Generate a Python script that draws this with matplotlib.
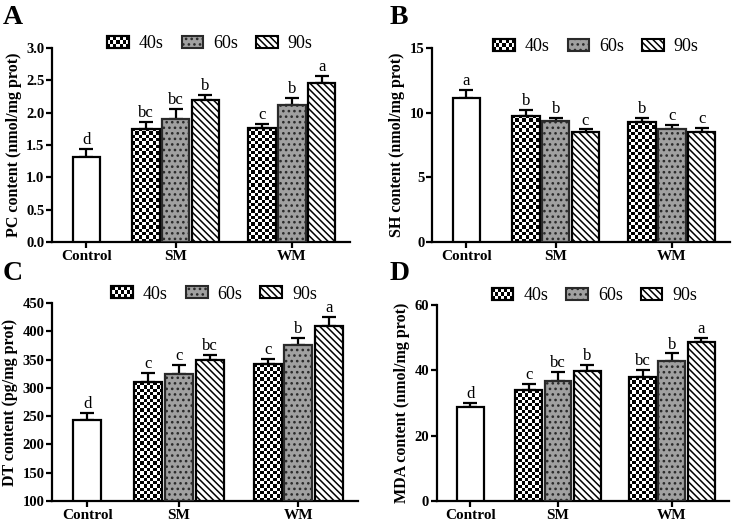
import numpy as np
import matplotlib.pyplot as plt
from matplotlib.patches import Rectangle, Patch
from matplotlib.legend_handler import HandlerBase

plt.rcParams['font.family'] = 'Liberation Serif'
plt.rcParams['hatch.linewidth'] = 1.1

#%% data
groups = ["Control", "SM", "WM"]
times = ["40s", "60s", "90s"]

# PC content
pc_ctrl, pc_ctrl_err = 1.32, 0.11
pc_sm = [1.75, 1.90, 2.20]
pc_sm_err = [0.11, 0.15, 0.07]
pc_wm = [1.76, 2.12, 2.45]
pc_wm_err = [0.06, 0.11, 0.11]
pc_letters = ["d", "bc", "bc", "b", "c", "b", "a"]

# SH content
sh_ctrl, sh_ctrl_err = 11.13, 0.6
sh_sm = [9.77, 9.33, 8.48]
sh_sm_err = [0.41, 0.23, 0.21]
sh_wm = [9.25, 8.76, 8.48]
sh_wm_err = [0.31, 0.26, 0.36]
sh_letters = ["a", "b", "b", "c", "b", "c", "c"]

# DT content
dt_ctrl, dt_ctrl_err = 244, 12
dt_sm = [310, 324, 350]
dt_sm_err = [16, 17, 9]
dt_wm = [342, 375, 410]
dt_wm_err = [9, 13, 16]
dt_letters = ["d", "c", "c", "bc", "c", "b", "a"]

# MDA content
mda_ctrl, mda_ctrl_err = 28.9, 1.2
mda_sm = [34.0, 36.8, 39.9]
mda_sm_err = [2.0, 2.8, 1.7]
mda_wm = [37.9, 42.9, 48.8]
mda_wm_err = [2.2, 2.3, 1.2]
mda_letters = ["d", "c", "bc", "b", "bc", "b", "a"]


#%% helpers
class CheckerHandler(HandlerBase):
    def create_artists(self, legend, orig_handle, xdescent, ydescent,
                       width, height, fontsize, trans):
        arts = [Rectangle((-xdescent, -ydescent), width, height, fc="white",
                          ec="black", lw=1.5, transform=trans)]
        nx, ny = 7, 3
        cw, ch = width / nx, height / ny
        for i in range(nx):
            for j in range(ny):
                if (i + j) % 2 == 0:
                    arts.append(Rectangle((-xdescent + i * cw, -ydescent + j * ch),
                                          cw, ch, fc="black", lw=0, transform=trans))
        arts.append(Rectangle((-xdescent, -ydescent), width, height, fc="none",
                              ec="black", lw=1.5, transform=trans))
        return arts


def checker_fill(ax, bar, cell=3.3):
    # checkerboard pattern clipped to bar
    x0, y0 = bar.get_x(), bar.get_y()
    x1, y1 = x0 + bar.get_width(), y0 + bar.get_height()
    p0 = ax.transData.transform((x0, y0))
    p1 = ax.transData.transform((x1, y1))
    nx = max(int(round((p1[0] - p0[0]) / cell)), 1)
    ny = max(int(round((p1[1] - p0[1]) / cell)), 1)
    board = (np.add.outer(np.arange(ny), np.arange(nx)) % 2).astype(float)
    im = ax.imshow(board, cmap="gray", extent=(x0, x1, y0, y1), aspect="auto",
                   interpolation="nearest", zorder=2)
    im.set_clip_path(bar)


def yticks_fmt(yticks):
    if any(abs(t - round(t)) > 1e-9 for t in yticks):
        return "%.1f"
    return "%d"


def panel(ax, ctrl, ctrl_err, sm, sm_err, wm, wm_err, letters, ylim, yticks,
          ylabel, leg_xy):
    xlim = (-1.15, 8.85)
    ax.set_xlim(xlim)
    ax.set_ylim(ylim)
    base = ylim[0]
    w = 0.92
    pos = [0, 2, 3, 4, 5.9, 6.9, 7.9]
    vals = [ctrl] + sm + wm
    errs = [ctrl_err] + sm_err + wm_err

    ax.bar(pos[0], ctrl - base, w, bottom=base, color="white",
           edgecolor="black", lw=1.6, zorder=3)
    for k in range(3):
        xs = [pos[1 + k], pos[4 + k]]
        hs = [sm[k] - base, wm[k] - base]
        if k == 0:
            bars = ax.bar(xs, hs, w, bottom=base, color="white",
                          edgecolor="black", lw=0, zorder=1)
            for bb in bars:
                checker_fill(ax, bb)
            ax.bar(xs, hs, w, bottom=base, color="none", edgecolor="black",
                   lw=1.6, zorder=3)
        elif k == 1:
            ax.bar(xs, hs, w, bottom=base, color="#a0a0a0", edgecolor="#2a2a2a",
                   hatch="...", lw=1.6, zorder=3)
        else:
            ax.bar(xs, hs, w, bottom=base, color="white", edgecolor="black",
                   hatch="\\\\\\\\\\", lw=1.6, zorder=3)

    ax.errorbar(pos, vals, yerr=[np.zeros(len(vals)), errs], fmt="none",
                ecolor="black", elinewidth=1.6, capsize=5, capthick=1.6, zorder=2)
    span = ylim[1] - ylim[0]
    for x, v, e, t in zip(pos, vals, errs, letters):
        ax.text(x, v + e + span * 0.005, t, ha="center", va="bottom", fontsize=12)

    ax.set_xlim(xlim)
    ax.set_ylim(ylim)
    ax.set_yticks(yticks)
    ax.yaxis.set_major_formatter(plt.FormatStrFormatter(yticks_fmt(yticks)))
    ax.set_xticks([0, 3, 6.9])
    ax.set_xticklabels(groups, fontweight="bold", fontsize=11)
    for lab in ax.get_yticklabels():
        lab.set_fontweight("bold")
        lab.set_fontsize(10.5)
    ax.set_ylabel(ylabel, fontweight="bold", fontsize=11.5, labelpad=3)
    ax.spines["top"].set_visible(False)
    ax.spines["right"].set_visible(False)
    ax.spines["left"].set_linewidth(1.6)
    ax.spines["bottom"].set_linewidth(1.6)
    ax.tick_params(width=1.6, length=4, pad=1.5)

    handles = [Patch(facecolor="white", edgecolor="black", label=times[0]),
               Patch(facecolor="#a0a0a0", edgecolor="#2a2a2a", hatch="...",
                     lw=1.5, label=times[1]),
               Patch(facecolor="white", edgecolor="black", hatch="\\\\\\\\\\",
                     lw=1.5, label=times[2])]
    ax.legend(handles=handles, loc="center", bbox_to_anchor=leg_xy, ncol=3,
              frameon=False, prop={"family": "Liberation Serif", "size": 13},
              handlelength=1.2, handleheight=0.65,
              handletextpad=0.55, columnspacing=1.0,
              handler_map={handles[0]: CheckerHandler()})


#%% figure
fig = plt.figure(figsize=(7.34, 5.25), dpi=100)
axA = fig.add_axes([0.0708, 0.539, 0.406, 0.370])
axB = fig.add_axes([0.5886, 0.539, 0.406, 0.370])
axC = fig.add_axes([0.0708, 0.0457, 0.417, 0.377])
axD = fig.add_axes([0.595, 0.0457, 0.398, 0.373])

panel(axA, pc_ctrl, pc_ctrl_err, pc_sm, pc_sm_err, pc_wm, pc_wm_err, pc_letters,
      (0, 3.0), np.arange(0, 3.01, 0.5), "PC content (nmol/mg prot)", (0.53, 1.02))
panel(axB, sh_ctrl, sh_ctrl_err, sh_sm, sh_sm_err, sh_wm, sh_wm_err, sh_letters,
      (0, 15), [0, 5, 10, 15], "SH content (nmol/mg prot)", (0.55, 1.005))
panel(axC, dt_ctrl, dt_ctrl_err, dt_sm, dt_sm_err, dt_wm, dt_wm_err, dt_letters,
      (100, 450), np.arange(100, 451, 50), "DT content (pg/mg prot)", (0.53, 1.045))
panel(axD, mda_ctrl, mda_ctrl_err, mda_sm, mda_sm_err, mda_wm, mda_wm_err, mda_letters,
      (0, 60), [0, 20, 40, 60], "MDA content (nmol/mg prot)", (0.54, 1.05))

for lab, x, y in [("A", 0.004, 0.99), ("B", 0.531, 0.99),
                  ("C", 0.004, 0.503), ("D", 0.531, 0.503)]:
    fig.text(x, y, lab, fontsize=20, fontweight="bold", va="top", ha="left")

fig.savefig("out.png", dpi=100)
